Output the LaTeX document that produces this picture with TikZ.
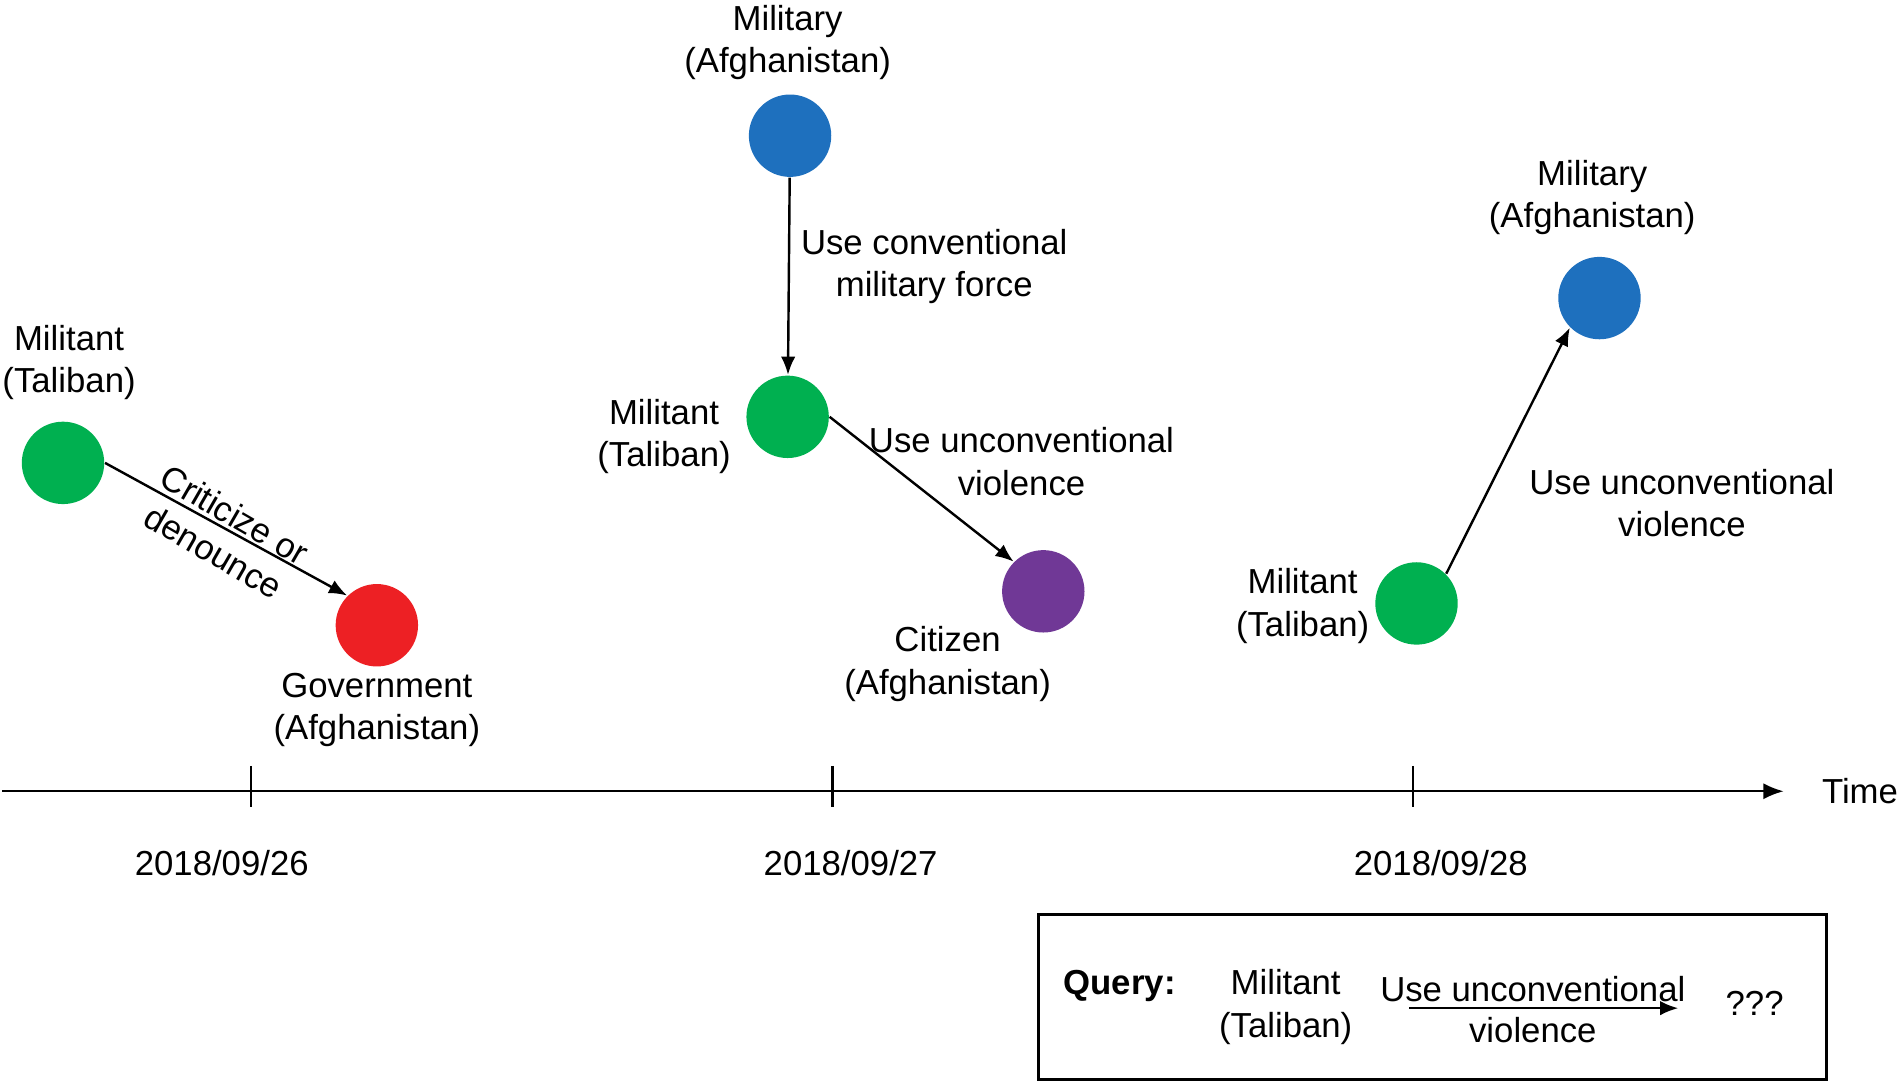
\documentclass[tikz,border=0pt]{standalone}
\usepackage{fontspec}
\setmainfont{Liberation Sans}
\usetikzlibrary{arrows.meta}
\definecolor{cgreen}{RGB}{0,176,80}
\definecolor{cred}{RGB}{237,32,36}
\definecolor{cblue}{RGB}{30,112,190}
\definecolor{cpurple}{RGB}{112,56,150}
\begin{document}
\begin{tikzpicture}[x=0.3pt,y=-0.3pt,
  ent/.style={circle,minimum size=20.4pt,inner sep=0pt},
  lbl/.style={align=center,font=\fontsize{8.6}{10.5}\selectfont,inner sep=0pt},
  rel/.style={-{Latex[length=4.5pt,width=3.6pt]},line width=0.6pt}]
\useasboundingbox (0,0) rectangle (1568,893);
\node[ent,fill=cgreen] (g1) at (52,382) {};
\node[ent,fill=cred] (r) at (311,516) {};
\node[ent,fill=cblue] (b1) at (652,112) {};
\node[ent,fill=cgreen] (g2) at (650,344) {};
\node[ent,fill=cpurple] (p) at (861,488) {};
\node[ent,fill=cgreen] (g3) at (1169,498) {};
\node[ent,fill=cblue] (b2) at (1320,246) {};
\node[lbl] (l1) at (57,299) {Militant\\(Taliban)};
\node[lbl] (l2) at (311,586) {Government\\(Afghanistan)};
\node[lbl] (l3) at (650,35) {Military\\(Afghanistan)};
\node[lbl] (l4) at (771,220) {Use conventional\\military force};
\node[lbl] (l5) at (548,360) {Militant\\(Taliban)};
\node[lbl] (l6) at (843,381) {Use unconventional\\violence};
\node[lbl] (l7) at (782,548) {Citizen\\(Afghanistan)};
\node[lbl] (l8) at (1314,163) {Military\\(Afghanistan)};
\node[lbl] (l9) at (1075,500) {Militant\\(Taliban)};
\node[lbl] (l10) at (1388,415) {Use unconventional\\violence};
\node[lbl,rotate=-30] (l11) at (185,440) {Criticize or\\denounce};
\draw[rel] (g1.east) -- (r.north west);
\draw[rel] (b1) -- (g2);
\draw[rel] (g2.east) -- (p.north west);
\draw[rel] (g3.north east) -- (b2.south west);
% axis
\coordinate (a0) at (2,653);
\coordinate (a1) at (1472,653);
\draw[-{Latex[length=5pt,width=4pt]},line width=0.6pt] (a0) -- (a1);
\foreach \x in {207,687,1166} \draw[line width=0.6pt] (\x,632) -- (\x,666);
\node[lbl] (t) at (1535,653) {Time};
\node[lbl] (d1) at (183,712) {2018/09/26};
\node[lbl] (d2) at (702,712) {2018/09/27};
\node[lbl] (d3) at (1189,712) {2018/09/28};
% query box
\draw[line width=0.7pt] (857,755) rectangle (1507,891);
\node[lbl,font=\fontsize{8.6}{10.5}\selectfont\bfseries] (q) at (924,814) {Query:};
\node[lbl] (qm) at (1061,831) {Militant\\(Taliban)};
\coordinate (qa) at (1163,832);
\coordinate (qb) at (1385,832);
\draw[rel] (qa) -- (qb);
\node[lbl] (qu) at (1265,816) {Use unconventional};
\node[lbl] (qv) at (1265,850) {violence};
\node[lbl] (qq) at (1448,828) {???};
\end{tikzpicture}
\end{document}
